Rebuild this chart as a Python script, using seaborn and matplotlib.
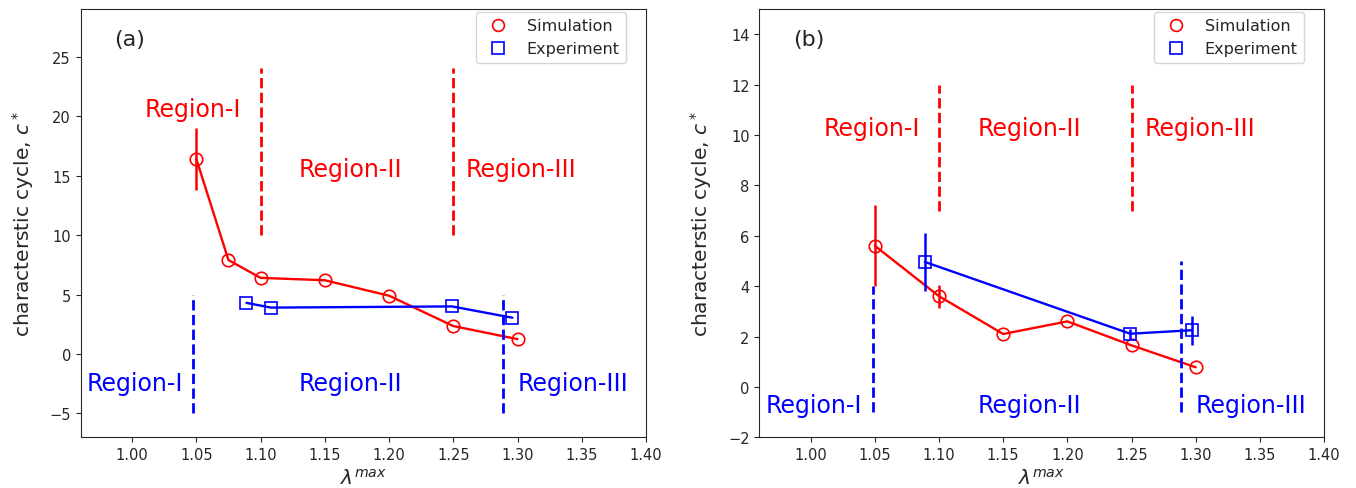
import numpy as np
import pandas as pd
import seaborn as sns
import matplotlib
matplotlib.use("Agg")
import matplotlib.pyplot as plt
from matplotlib.lines import Line2D

# panel (a)
lam_sim_a = [1.05, 1.075, 1.10, 1.15, 1.20, 1.25, 1.30]
c_sim_a = [16.4, 7.9, 6.4, 6.2, 4.9, 2.35, 1.25]
err_sim_a = [2.6, 0, 0, 0, 0, 0, 0]
lam_exp_a = [1.089, 1.108, 1.249, 1.296]
c_exp_a = [4.3, 3.9, 4.0, 3.05]
err_exp_a = [0, 0, 0, 0]

# panel (b)
lam_sim_b = [1.05, 1.10, 1.15, 1.20, 1.25, 1.30]
c_sim_b = [5.6, 3.6, 2.1, 2.6, 1.65, 0.78]
err_sim_b = [1.6, 0.45, 0, 0, 0, 0]
lam_exp_b = [1.089, 1.249, 1.297]
c_exp_b = [4.96, 2.11, 2.25]
err_exp_b = [1.16, 0.2, 0.58]

# region boundaries (x, ymin, ymax)
sim_bounds_a = [(1.10, 10, 24), (1.25, 10, 24)]
exp_bounds_a = [(1.0477, -5, 5), (1.2886, -5, 5)]
sim_bounds_b = [(1.10, 7, 12), (1.25, 7, 12)]
exp_bounds_b = [(1.0486, -1, 4), (1.2885, -1, 5)]

region_names = ["Region-I", "Region-II", "Region-III"]
sim_text_x = [1.01, 1.13, 1.26]
exp_text_x = [0.965, 1.13, 1.30]
sim_text_y_a = [20, 15, 15]
exp_text_y_a = [-3, -3, -3]
sim_text_y_b = [10, 10, 10]
exp_text_y_b = [-1, -1, -1]

sns.set_style("ticks")
plt.rcParams["font.family"] = ["DejaVu Sans"]


def draw_panel(ax, sim, exp, sim_bounds, exp_bounds, sim_ty, exp_ty, ylim, yticks, tag):
    sim_df = pd.DataFrame({"lam": sim[0], "c": sim[1]})
    exp_df = pd.DataFrame({"lam": exp[0], "c": exp[1]})

    sns.lineplot(data=sim_df, x="lam", y="c", ax=ax, color="red", lw=1.7,
                 marker="o", markersize=9, markerfacecolor="none",
                 markeredgecolor="red", markeredgewidth=1.2)
    sns.lineplot(data=exp_df, x="lam", y="c", ax=ax, color="blue", lw=1.7,
                 marker="s", markersize=8.5, markerfacecolor="none",
                 markeredgecolor="blue", markeredgewidth=1.2)
    ax.errorbar(sim[0], sim[1], yerr=sim[2], fmt="none", ecolor="red", elinewidth=1.8)
    ax.errorbar(exp[0], exp[1], yerr=exp[2], fmt="none", ecolor="blue", elinewidth=1.8)

    for x, y0, y1 in sim_bounds:
        ax.vlines(x, y0, y1, colors="red", linestyles="--", lw=2)
    for x, y0, y1 in exp_bounds:
        ax.vlines(x, y0, y1, colors="blue", linestyles="--", lw=2)

    for name, x, y in zip(region_names, sim_text_x, sim_ty):
        ax.text(x, y, name, color="red", fontsize=17)
    for name, x, y in zip(region_names, exp_text_x, exp_ty):
        ax.text(x, y, name, color="blue", fontsize=17)

    ax.text(0.06, 0.915, tag, transform=ax.transAxes, fontsize=16)

    ax.set_xlim(0.96, 1.40)
    ax.set_xticks(np.arange(1.00, 1.401, 0.05))
    ax.set_ylim(*ylim)
    ax.set_yticks(yticks)
    ax.tick_params(labelsize=10.5)
    ax.set_xlabel(r"$\lambda^{max}$", fontsize=14.5)
    ax.set_ylabel(r"characterstic cycle, $c^*$", fontsize=14.5, labelpad=10)

    handles = [
        Line2D([], [], ls="none", marker="o", ms=8.5, mfc="none", mec="red", mew=1.2, label="Simulation"),
        Line2D([], [], ls="none", marker="s", ms=8, mfc="none", mec="blue", mew=1.2, label="Experiment"),
    ]
    ax.legend(handles=handles, loc="upper right", bbox_to_anchor=(0.965, 0.993),
              borderaxespad=0, fontsize=11.5)


fig = plt.figure(figsize=(13.56, 4.89), dpi=100)
ax1 = fig.add_axes([0.0595, 0.1037, 0.4169, 0.8759])
ax2 = fig.add_axes([0.5600, 0.1037, 0.4164, 0.8759])

draw_panel(ax1, (lam_sim_a, c_sim_a, err_sim_a), (lam_exp_a, c_exp_a, err_exp_a),
           sim_bounds_a, exp_bounds_a, sim_text_y_a, exp_text_y_a,
           (-7, 29), [-5, 0, 5, 10, 15, 20, 25], "(a)")
draw_panel(ax2, (lam_sim_b, c_sim_b, err_sim_b), (lam_exp_b, c_exp_b, err_exp_b),
           sim_bounds_b, exp_bounds_b, sim_text_y_b, exp_text_y_b,
           (-2, 15), [-2, 0, 2, 4, 6, 8, 10, 12, 14], "(b)")

fig.savefig("out.png", dpi=100)
